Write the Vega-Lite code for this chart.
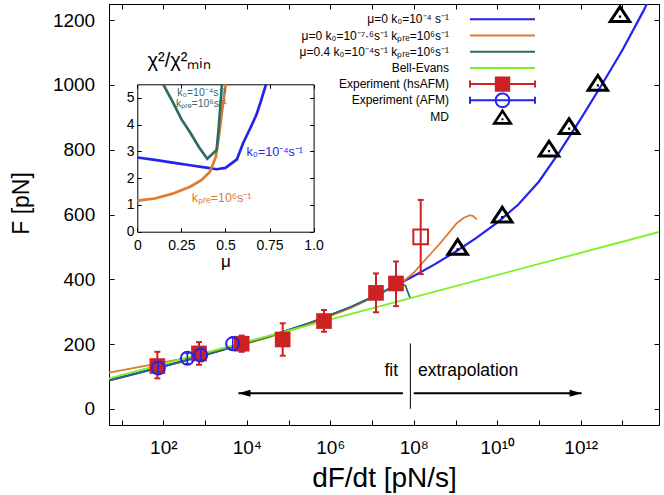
{
  "$schema": "https://vega.github.io/schema/vega-lite/v6.json",
  "width": 550,
  "height": 421,
  "autosize": {"type": "none"},
  "padding": {"left": 109, "top": 4, "right": 5, "bottom": 70},
  "background": "white",
  "config": {
    "view": {"stroke": "black", "strokeWidth": 1},
    "font": "Liberation Sans",
    "axis": {"grid": false, "domainColor": "black", "domainWidth": 1, "tickColor": "black", "tickWidth": 1, "labelColor": "black", "titleColor": "black", "labelFont": "Liberation Sans", "titleFont": "Liberation Sans", "titleFontWeight": "normal", "labelFlush": false, "labelOverlap": false},
    "text": {"font": "Liberation Sans", "color": "black"}
  },
  "datasets": {
    "blue": [{"x":5,"F":88},{"x":31.62,"F":114},{"x":316.2,"F":148},{"x":3162,"F":185},{"x":31623,"F":222},{"x":316228,"F":264},{"x":3162278,"F":314},{"x":1e7,"F":344},{"x":3.162e7,"F":376},{"x":1e8,"F":410},{"x":3.162e8,"F":446},{"x":1e9,"F":485},{"x":3.162e9,"F":528},{"x":1e10,"F":575},{"x":3.162e10,"F":630},{"x":1e11,"F":702},{"x":3.162e11,"F":795},{"x":1e12,"F":895},{"x":3.162e12,"F":1000},{"x":1e13,"F":1108},{"x":3.162e13,"F":1228},{"x":4.17e13,"F":1260}],
    "orange": [{"x":5,"F":112},{"x":31.62,"F":131},{"x":316.2,"F":156},{"x":3162,"F":185},{"x":31623,"F":220},{"x":316228,"F":261},{"x":3162278,"F":312},{"x":1e7,"F":343},{"x":3.162e7,"F":376},{"x":5.62e7,"F":394},{"x":1e8,"F":420},{"x":1.445e8,"F":444},{"x":2.512e8,"F":478},{"x":4.266e8,"F":511},{"x":7.08e8,"F":545},{"x":1.072e9,"F":573},{"x":1.585e9,"F":590},{"x":2.239e9,"F":598},{"x":2.63e9,"F":595},{"x":3.236e9,"F":585}],
    "teal": [{"x":5,"F":88},{"x":31.62,"F":114},{"x":316.2,"F":148},{"x":3162,"F":185},{"x":31623,"F":222},{"x":316228,"F":265},{"x":3162278,"F":315},{"x":1e7,"F":345},{"x":3.162e7,"F":377},{"x":5.01e7,"F":386},{"x":6.31e7,"F":380},{"x":8.32e7,"F":340}],
    "green": [{"x":5,"F":94},{"x":7.5e13,"F":546}],
    "hs": [
      {"x":72,"F":132,"lo":94,"hi":176,"fit":true},
      {"x":716,"F":171,"lo":136,"hi":206,"fit":true},
      {"x":7550,"F":201,"lo":176,"hi":226,"fit":true},
      {"x":72400,"F":214,"lo":164,"hi":264,"fit":true},
      {"x":708000,"F":271,"lo":238,"hi":305,"fit":true},
      {"x":1.245e7,"F":358,"lo":298,"hi":418,"fit":true},
      {"x":3.75e7,"F":387,"lo":317,"hi":455,"fit":true},
      {"x":1.466e8,"F":531,"lo":416,"hi":645,"fit":false}
    ],
    "afm": [
      {"x":75.9,"F":126,"lo":107,"hi":145},
      {"x":376,"F":156,"lo":140,"hi":171},
      {"x":787,"F":166,"lo":151,"hi":185},
      {"x":4592,"F":201,"lo":181,"hi":222}
    ],
    "md": [{"x":1.127e9,"F":492},{"x":1.318e10,"F":592},{"x":1.738e11,"F":796},{"x":5.25e11,"F":865},{"x":2.57e12,"F":999},{"x":8.71e12,"F":1211}],
    "sep": [{"x":8.3e7,"lo":0,"hi":202}],
    "arrows": [{"side":"fit","from":5.5e7,"to":6310,"F":48},{"side":"extrapolation","from":1e8,"to":1.05e12,"F":48}],
    "notes": [{"x":4.2e7,"F":101,"t":"fit"},{"x":1.265e8,"F":101,"t":"extrapolation"}],
    "inset": [
      {"k":"k0","mu":0,"chi":2.77},{"k":"k0","mu":0.1,"chi":2.68},{"k":"k0","mu":0.2,"chi":2.58},{"k":"k0","mu":0.3,"chi":2.48},{"k":"k0","mu":0.4,"chi":2.38},{"k":"k0","mu":0.45,"chi":2.33},{"k":"k0","mu":0.5,"chi":2.38},{"k":"k0","mu":0.565,"chi":2.7},{"k":"k0","mu":0.6,"chi":3.3},{"k":"k0","mu":0.64,"chi":3.85},{"k":"k0","mu":0.675,"chi":4.35},{"k":"k0","mu":0.7,"chi":4.85},{"k":"k0","mu":0.73,"chi":5.5},
      {"k":"kpre","mu":0,"chi":1.16},{"k":"kpre","mu":0.1,"chi":1.24},{"k":"kpre","mu":0.2,"chi":1.42},{"k":"kpre","mu":0.3,"chi":1.68},{"k":"kpre","mu":0.365,"chi":1.93},{"k":"kpre","mu":0.412,"chi":2.24},{"k":"kpre","mu":0.446,"chi":2.8},{"k":"kpre","mu":0.465,"chi":3.67},{"k":"kpre","mu":0.484,"chi":4.66},{"k":"kpre","mu":0.502,"chi":5.5},
      {"k":"both","mu":0.147,"chi":5.5},{"k":"both","mu":0.2,"chi":4.85},{"k":"both","mu":0.25,"chi":4.2},{"k":"both","mu":0.3,"chi":3.7},{"k":"both","mu":0.35,"chi":3.15},{"k":"both","mu":0.397,"chi":2.72},{"k":"both","mu":0.45,"chi":3.05},{"k":"both","mu":0.462,"chi":3.9},{"k":"both","mu":0.48,"chi":5.5}
    ],
    "insetlabels": [
      {"k":"both","mu":0.227,"chi":5.16,"t":"k₀=10⁻⁴s⁻¹"},
      {"k":"both","mu":0.219,"chi":4.75,"t":"kₚᵣₑ=10⁶s⁻¹"},
      {"k":"k0","mu":0.62,"chi":2.99,"t":"k₀=10⁻⁴s⁻¹"},
      {"k":"kpre","mu":0.309,"chi":1.25,"t":"kₚᵣₑ=10⁶s⁻¹"}
    ]
  },
  "layer": [
    {
      "resolve": {"axis": {"x": "independent", "y": "independent"}},
      "layer": [
        {
          "data": {"name": "blue"},
          "mark": {"type": "line", "clip": true, "strokeWidth": 2.2},
          "encoding": {
            "x": {"field": "x", "type": "quantitative", "scale": {"type": "log", "domain": [5, 7.5e13], "nice": false},
                  "axis": {"orient": "top", "values": [10,100,1000,1e4,1e5,1e6,1e7,1e8,1e9,1e10,1e11,1e12,1e13], "labels": false, "tickSize": -5, "title": null}},
            "y": {"field": "F", "type": "quantitative", "scale": {"domain": [-50, 1250], "nice": false, "zero": false},
                  "axis": {"orient": "right", "values": [0,200,400,600,800,1000,1200], "labels": false, "tickSize": -5, "title": null}},
            "color": {
              "datum": "μ=0 k₀=10⁻⁴ s⁻¹", "type": "nominal",
              "scale": {
                "domain": ["μ=0 k₀=10⁻⁴ s⁻¹", "μ=0 k₀=10⁻⁷·⁶s⁻¹ kₚᵣₑ=10⁶s⁻¹", "μ=0.4 k₀=10⁻⁴s⁻¹ kₚᵣₑ=10⁶s⁻¹", "Bell-Evans", "Experiment (hsAFM)", "Experiment (AFM)", "MD"],
                "range": ["#2323ee", "#e07a30", "#2f6b66", "#7ef025", "#cc2222", "#2323ee", "#000000"]
              },
              "legend": {
                "orient": "none", "legendX": 386.5, "legendY": 8.3, "title": null, "padding": 0, "rowPadding": 0.2,
                "symbolSize": 196, "symbolStrokeWidth": 0,
                "labelAlign": "right", "labelOffset": -60.5, "labelFontSize": 12, "labelFont": "Liberation Sans", "labelColor": "black", "labelLimit": 400,
                "encoding": {
                  "symbols": {
                    "shape": {"value": {"signal": "datum.value == 'MD' ? 'M0,-1.142L1.518,1.162L-1.518,1.162ZM0,-0.482L-0.842,0.798L0.842,0.798ZM-0.136,0.252H0.136V0.524H-0.136Z' : datum.value == 'Experiment (hsAFM)' ? 'M0,-1.14L0,-1.14M0,1.14L0,1.14M-4.64,-0.14H4.64V0.14H-4.64ZM-4.78,-0.5H-4.5V0.5H-4.78ZM4.5,-0.5H4.78V0.5H4.5ZM-1.1,-1.1H1.1V1.1H-1.1Z' : datum.value == 'Experiment (AFM)' ? 'M0,-1.14L0,-1.14M0,1.14L0,1.14M-4.64,-0.14H4.64V0.14H-4.64ZM-4.78,-0.5H-4.5V0.5H-4.78ZM4.5,-0.5H4.78V0.5H4.5ZM-1.12,0A1.12,1.12 0 1,1 1.12,0A1.12,1.12 0 1,1 -1.12,0ZM-0.84,0A0.84,0.84 0 1,0 0.84,0A0.84,0.84 0 1,0 -0.84,0Z' : 'M0,-1.14L0,-1.14M0,1.14L0,1.14M-4.64,-0.14H4.64V0.14H-4.64Z'"}},
                    "fill": {"value": {"signal": "scale('color', datum.value)"}},
                    "stroke": {"value": "transparent"},
                    "strokeWidth": {"value": 0},
                    "opacity": {"value": 1}
                  }
                }
              }
            }
          }
        },
        {
          "layer": [
            {
              "data": {"name": "orange"},
              "mark": {"type": "line", "strokeWidth": 1.8},
              "encoding": {
                "x": {"field": "x", "type": "quantitative", "scale": {"type": "log", "domain": [5, 7.5e13], "nice": false},
                      "axis": {"orient": "bottom", "values": [10,100,1000,1e4,1e5,1e6,1e7,1e8,1e9,1e10,1e11,1e12,1e13], "tickSize": -5, "labelPadding": 27.3, "labelBaseline": "middle", "labelFontSize": 19,
                               "labelExpr": "['','','10²','','10⁴','','10⁶','','10⁸','','10¹⁰','','10¹²','',''][round(log(datum.value)/LN10)]",
                               "title": "dF/dt [pN/s]", "titleFontSize": 28, "titleY": 61.7, "titleBaseline": "alphabetic"}},
                "y": {"field": "F", "type": "quantitative", "scale": {"domain": [-50, 1250], "nice": false, "zero": false},
                      "axis": {"orient": "left", "values": [0,200,400,600,800,1000,1200], "format": "d", "tickSize": -5, "labelPadding": 19.3, "labelFontSize": 19, "labelBaseline": "middle",
                               "title": "F [pN]", "titleFontSize": 23, "titleAngle": 270, "titleX": -87.3, "titleY": 199, "titleBaseline": "middle", "titleAlign": "center"}},
                "color": {"datum": "μ=0 k₀=10⁻⁷·⁶s⁻¹ kₚᵣₑ=10⁶s⁻¹", "type": "nominal"}
              }
            },
            {
              "data": {"name": "teal"},
              "mark": {"type": "line", "strokeWidth": 1.8},
              "encoding": {
                "x": {"field": "x", "type": "quantitative"},
                "y": {"field": "F", "type": "quantitative"},
                "color": {"datum": "μ=0.4 k₀=10⁻⁴s⁻¹ kₚᵣₑ=10⁶s⁻¹", "type": "nominal"}
              }
            },
            {
              "data": {"name": "green"},
              "mark": {"type": "line", "strokeWidth": 1.8, "clip": true},
              "encoding": {
                "x": {"field": "x", "type": "quantitative"},
                "y": {"field": "F", "type": "quantitative"},
                "color": {"datum": "Bell-Evans", "type": "nominal"}
              }
            },
            {
              "data": {"name": "hs"},
              "mark": {"type": "rule", "strokeWidth": 2},
              "encoding": {
                "x": {"field": "x", "type": "quantitative"},
                "y": {"field": "lo", "type": "quantitative"},
                "y2": {"field": "hi"},
                "color": {"datum": "Experiment (hsAFM)", "type": "nominal"}
              }
            },
            {
              "data": {"name": "hs"},
              "transform": [{"fold": ["lo", "hi"], "as": ["end", "v"]}],
              "mark": {"type": "tick", "orient": "horizontal", "size": 6, "thickness": 2, "opacity": 1},
              "encoding": {
                "x": {"field": "x", "type": "quantitative"},
                "y": {"field": "v", "type": "quantitative"},
                "fill": {"datum": "Experiment (hsAFM)", "type": "nominal", "legend": null,
                         "scale": {"domain": ["Experiment (hsAFM)", "Experiment (AFM)", "MD"], "range": ["#cc2222", "#2323ee", "#000000"]}}
              }
            },
            {
              "data": {"name": "hs"},
              "transform": [{"filter": "datum.fit"}],
              "mark": {"type": "point", "shape": "square", "filled": true, "size": 246, "opacity": 1},
              "encoding": {
                "x": {"field": "x", "type": "quantitative"},
                "y": {"field": "F", "type": "quantitative"},
                "fill": {"datum": "Experiment (hsAFM)", "type": "nominal", "legend": null}
              }
            },
            {
              "data": {"name": "hs"},
              "transform": [{"filter": "!datum.fit"}],
              "mark": {"type": "point", "shape": "square", "filled": false, "size": 216, "strokeWidth": 2, "opacity": 1},
              "encoding": {
                "x": {"field": "x", "type": "quantitative"},
                "y": {"field": "F", "type": "quantitative"},
                "color": {"datum": "Experiment (hsAFM)", "type": "nominal"}
              }
            },
            {
              "data": {"name": "afm"},
              "mark": {"type": "rule", "strokeWidth": 1.5},
              "encoding": {
                "x": {"field": "x", "type": "quantitative"},
                "y": {"field": "lo", "type": "quantitative"},
                "y2": {"field": "hi"},
                "color": {"datum": "Experiment (AFM)", "type": "nominal"}
              }
            },
            {
              "data": {"name": "afm"},
              "transform": [{"fold": ["lo", "hi"], "as": ["end", "v"]}],
              "mark": {"type": "tick", "orient": "horizontal", "size": 4, "thickness": 1.5, "opacity": 1},
              "encoding": {
                "x": {"field": "x", "type": "quantitative"},
                "y": {"field": "v", "type": "quantitative"},
                "fill": {"datum": "Experiment (AFM)", "type": "nominal", "legend": null}
              }
            },
            {
              "data": {"name": "afm"},
              "mark": {"type": "point", "shape": "circle", "filled": false, "size": 170, "strokeWidth": 2, "opacity": 1},
              "encoding": {
                "x": {"field": "x", "type": "quantitative"},
                "y": {"field": "F", "type": "quantitative"},
                "color": {"datum": "Experiment (AFM)", "type": "nominal"}
              }
            },
            {
              "data": {"name": "md"},
              "mark": {"type": "point", "shape": "M0,-1.01L1,0.51L-1,0.51ZM0,-0.573L-0.555,0.27L0.555,0.27ZM-0.09,-0.09H0.09V0.09H-0.09Z", "filled": true, "size": 625, "strokeWidth": 0, "opacity": 1},
              "encoding": {
                "x": {"field": "x", "type": "quantitative"},
                "y": {"field": "F", "type": "quantitative"},
                "fill": {"datum": "MD", "type": "nominal", "legend": null}
              }
            },
            {
              "data": {"name": "sep"},
              "mark": {"type": "rule", "strokeWidth": 1, "color": "black"},
              "encoding": {
                "x": {"field": "x", "type": "quantitative"},
                "y": {"field": "lo", "type": "quantitative"},
                "y2": {"field": "hi"}
              }
            },
            {
              "data": {"name": "arrows"},
              "mark": {"type": "rule", "strokeWidth": 2, "color": "black"},
              "encoding": {
                "x": {"field": "from", "type": "quantitative"},
                "x2": {"field": "to"},
                "y": {"field": "F", "type": "quantitative"}
              }
            },
            {
              "data": {"name": "arrows"},
              "transform": [{"filter": "datum.side == 'fit'"}],
              "mark": {"type": "point", "shape": "M0,0L2,-0.6L2,0.6Z", "size": 144, "filled": true, "color": "black", "opacity": 1, "strokeWidth": 0},
              "encoding": {
                "x": {"field": "to", "type": "quantitative"},
                "y": {"field": "F", "type": "quantitative"}
              }
            },
            {
              "data": {"name": "arrows"},
              "transform": [{"filter": "datum.side == 'extrapolation'"}],
              "mark": {"type": "point", "shape": "M0,0L-2,-0.6L-2,0.6Z", "size": 144, "filled": true, "color": "black", "opacity": 1, "strokeWidth": 0},
              "encoding": {
                "x": {"field": "to", "type": "quantitative"},
                "y": {"field": "F", "type": "quantitative"}
              }
            },
            {
              "data": {"name": "notes"},
              "transform": [{"filter": "datum.t == 'fit'"}],
              "mark": {"type": "text", "align": "right", "baseline": "alphabetic", "fontSize": 17.5, "color": "black"},
              "encoding": {
                "x": {"field": "x", "type": "quantitative"},
                "y": {"field": "F", "type": "quantitative"},
                "text": {"field": "t"}
              }
            },
            {
              "data": {"name": "notes"},
              "transform": [{"filter": "datum.t != 'fit'"}],
              "mark": {"type": "text", "align": "left", "baseline": "alphabetic", "fontSize": 17.5, "color": "black"},
              "encoding": {
                "x": {"field": "x", "type": "quantitative"},
                "y": {"field": "F", "type": "quantitative"},
                "text": {"field": "t"}
              }
            }
          ]
        }
      ]
    },
    {
      "resolve": {"axis": {"x": "independent", "y": "independent"}},
      "layer": [
        {
          "data": {"name": "inset"},
          "transform": [{"filter": "datum.k == 'k0'"}],
          "mark": {"type": "line", "strokeWidth": 2.7},
          "encoding": {
            "x": {"field": "mu", "type": "quantitative", "scale": {"domain": [0, 1], "range": [28.3, 204.6], "nice": false, "zero": false},
                  "axis": {"orient": "bottom", "offset": -193.3, "values": [0, 0.25, 0.5, 0.75, 1], "labelExpr": "datum.value == 1 ? '1.0' : '' + datum.value", "tickSize": -4, "labelPadding": 18, "labelBaseline": "middle", "labelFontSize": 14,
                           "title": "μ", "titleFontSize": 17, "titleY": 35, "titleBaseline": "alphabetic"}},
            "y": {"field": "chi", "type": "quantitative", "scale": {"domain": [0, 5.5], "range": [227.7, 80.3], "nice": false, "zero": false},
                  "axis": {"orient": "left", "offset": -28.3, "values": [0, 1, 2, 3, 4, 5], "tickSize": -4, "labelPadding": 7.3, "labelBaseline": "middle", "labelFontSize": 14,
                           "title": "χ²/χ²ₘᵢₙ", "titleFontSize": 20, "titleAngle": 0, "titleAlign": "left", "titleBaseline": "alphabetic", "titleX": 9.7, "titleY": 62}},
            "color": {"datum": "μ=0 k₀=10⁻⁴ s⁻¹", "type": "nominal"}
          }
        },
        {
          "data": {"name": "inset"},
          "transform": [{"filter": "datum.k == 'kpre'"}],
          "mark": {"type": "line", "strokeWidth": 2.7},
          "encoding": {
            "x": {"field": "mu", "type": "quantitative", "axis": null},
            "y": {"field": "chi", "type": "quantitative", "axis": null},
            "color": {"datum": "μ=0 k₀=10⁻⁷·⁶s⁻¹ kₚᵣₑ=10⁶s⁻¹", "type": "nominal"}
          }
        },
        {
          "data": {"name": "inset"},
          "transform": [{"filter": "datum.k == 'both'"}],
          "mark": {"type": "line", "strokeWidth": 2.7},
          "encoding": {
            "x": {"field": "mu", "type": "quantitative", "axis": null},
            "y": {"field": "chi", "type": "quantitative", "axis": null},
            "color": {"datum": "μ=0.4 k₀=10⁻⁴s⁻¹ kₚᵣₑ=10⁶s⁻¹", "type": "nominal"}
          }
        },
        {
          "data": {"name": "insetlabels"},
          "transform": [{"filter": "datum.k == 'both'"}],
          "mark": {"type": "text", "align": "left", "baseline": "middle", "fontSize": 10.5, "color": "#2f6b66"},
          "encoding": {
            "x": {"field": "mu", "type": "quantitative", "axis": {"orient": "top", "offset": -80.3, "values": [0, 0.25, 0.5, 0.75, 1], "labels": false, "tickSize": -4, "title": null}},
            "y": {"field": "chi", "type": "quantitative", "axis": {"orient": "right", "offset": -345.4, "values": [0, 1, 2, 3, 4, 5], "labels": false, "tickSize": -4, "title": null}},
            "text": {"field": "t"}
          }
        },
        {
          "data": {"name": "insetlabels"},
          "transform": [{"filter": "datum.k == 'k0'"}],
          "mark": {"type": "text", "align": "left", "baseline": "middle", "fontSize": 12.5, "color": "#2323ee"},
          "encoding": {
            "x": {"field": "mu", "type": "quantitative", "axis": null},
            "y": {"field": "chi", "type": "quantitative", "axis": null},
            "text": {"field": "t"}
          }
        },
        {
          "data": {"name": "insetlabels"},
          "transform": [{"filter": "datum.k == 'kpre'"}],
          "mark": {"type": "text", "align": "left", "baseline": "middle", "fontSize": 12.5, "color": "#e07a30"},
          "encoding": {
            "x": {"field": "mu", "type": "quantitative", "axis": null},
            "y": {"field": "chi", "type": "quantitative", "axis": null},
            "text": {"field": "t"}
          }
        }
      ]
    }
  ],
  "resolve": {"scale": {"x": "independent", "y": "independent"}}
}
